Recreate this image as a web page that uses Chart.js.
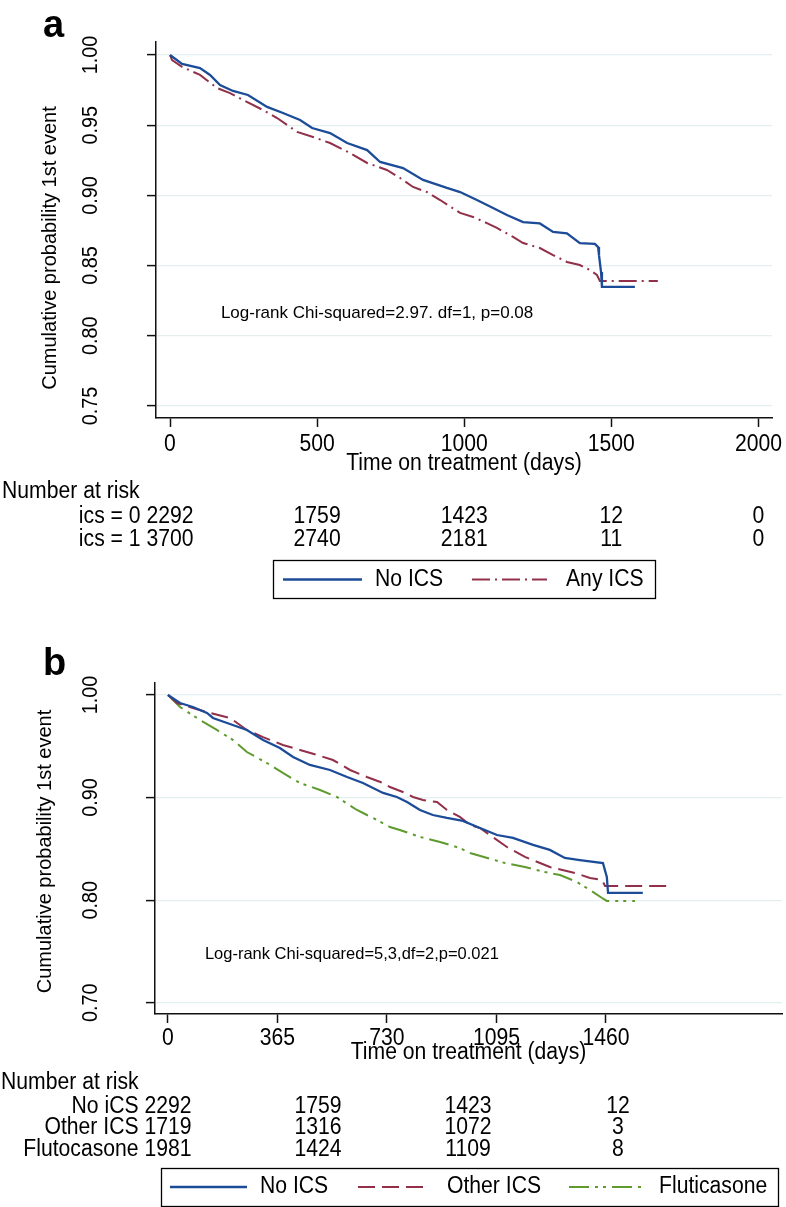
<!DOCTYPE html>
<html>
<head>
<meta charset="utf-8">
<script src="https://cdn.jsdelivr.net/npm/chart.js@4.4.1/dist/chart.umd.min.js"></script>
<style>
html,body{margin:0;padding:0;background:#fff;}
#wrap{width:786px;height:1207px;position:relative;overflow:hidden;}
canvas{display:block;}
</style>
</head>
<body>
<div id="wrap">
<canvas id="ca" width="786" height="600"></canvas>
<canvas id="cb" width="786" height="607"></canvas>
</div>
<script>
// ---------------- DATA ----------------
// Panel a: Kaplan-Meier curves (days, cumulative probability)
const aNoIcsDays = [0, 41, 102, 136, 170, 214, 265, 330, 384, 442, 483, 544, 602, 670, 714, 792, 860, 941, 986, 1043, 1098, 1145, 1200, 1257, 1302, 1349, 1393, 1444, 1455, 1458, 1465, 1468, 1580];
const aNoIcsSurv = [1.000, 0.9936, 0.9907, 0.9858, 0.9786, 0.9744, 0.9715, 0.9630, 0.9587, 0.9537, 0.9480, 0.9444, 0.9373, 0.9323, 0.9238, 0.9195, 0.9110, 0.9053, 0.9024, 0.8967, 0.8910, 0.8860, 0.8810, 0.8800, 0.8740, 0.8730, 0.8660, 0.8654, 0.8632, 0.8575, 0.8454, 0.8348, 0.8348];
const aAnyIcsDays = [0, 7, 41, 102, 160, 204, 248, 316, 364, 432, 486, 544, 612, 670, 737, 782, 826, 873, 918, 986, 1030, 1077, 1111, 1166, 1200, 1257, 1302, 1349, 1393, 1427, 1451, 1461, 1658];
const aAnyIcsSurv = [1.000, 0.9964, 0.9915, 0.9858, 0.9765, 0.9729, 0.9680, 0.9608, 0.9551, 0.9452, 0.9416, 0.9373, 0.9302, 0.9231, 0.9181, 0.9124, 0.9060, 0.9024, 0.8967, 0.8875, 0.8846, 0.8803, 0.8768, 0.8704, 0.8661, 0.8625, 0.8575, 0.8526, 0.8504, 0.8469, 0.8433, 0.8390, 0.8390];

// Panel b
const bNoIcsDays = [0, 40, 83, 130, 150, 197, 263, 317, 373, 417, 473, 540, 597, 650, 717, 763, 797, 840, 883, 930, 983, 1040, 1097, 1150, 1217, 1273, 1323, 1373, 1450, 1463, 1467, 1583];
const bNoIcsSurv = [1.000, 0.9922, 0.9883, 0.9825, 0.9776, 0.9727, 0.9659, 0.9561, 0.9483, 0.9396, 0.9318, 0.9269, 0.9201, 0.9142, 0.9045, 0.9006, 0.8957, 0.8879, 0.8830, 0.8801, 0.8772, 0.8703, 0.8635, 0.8606, 0.8538, 0.8490, 0.8411, 0.8391, 0.8362, 0.8226, 0.8070, 0.8070];
const bOtherDays = [0, 30, 83, 140, 207, 263, 317, 383, 440, 497, 550, 607, 663, 717, 740, 783, 817, 850, 897, 930, 973, 1007, 1040, 1073, 1130, 1190, 1273, 1357, 1407, 1447, 1457, 1663];
const bOtherSurv = [1.000, 0.9922, 0.9873, 0.9825, 0.9776, 0.9659, 0.9590, 0.9513, 0.9464, 0.9415, 0.9366, 0.9269, 0.9201, 0.9142, 0.9103, 0.9054, 0.9006, 0.8976, 0.8957, 0.8879, 0.8811, 0.8733, 0.8703, 0.8635, 0.8518, 0.8421, 0.8323, 0.8265, 0.8216, 0.8196, 0.8138, 0.8138];
const bFlutDays = [0, 40, 107, 163, 217, 263, 330, 383, 440, 507, 563, 630, 697, 740, 773, 840, 907, 973, 1007, 1123, 1190, 1257, 1307, 1363, 1407, 1447, 1463, 1557];
const bFlutSurv = [1.000, 0.9883, 0.9756, 0.9659, 0.9561, 0.9444, 0.9337, 0.9240, 0.9142, 0.9074, 0.9006, 0.8879, 0.8781, 0.8713, 0.8684, 0.8616, 0.8567, 0.8508, 0.8460, 0.8362, 0.8323, 0.8274, 0.8245, 0.8177, 0.8099, 0.8021, 0.7992, 0.7992];

// Axis ticks
const xTicksA = [0, 500, 1000, 1500, 2000];
const yTicksA = [0.75, 0.80, 0.85, 0.90, 0.95, 1.00];
const xTicksB = [0, 365, 730, 1095, 1460];
const yTicksB = [0.70, 0.80, 0.90, 1.00];

// Number at risk tables
const riskTimesA = [0, 500, 1000, 1500, 2000];
const riskA_ics0 = [2292, 1759, 1423, 12, 0];
const riskA_ics1 = [3700, 2740, 2181, 11, 0];
const riskTimesB = [0, 500, 1000, 1500];
const riskB_noIcs = [2292, 1759, 1423, 12];
const riskB_other = [1719, 1316, 1072, 3];
const riskB_flut = [1981, 1424, 1109, 8];

// Labels / texts
const seriesA = ['No ICS', 'Any ICS'];
const seriesB = ['No ICS', 'Other ICS', 'Fluticasone'];
const riskRowsA = ['ics = 0', 'ics = 1'];
const riskRowsB = ['No iCS', 'Other ICS', 'Flutocasone'];
const yTitle = 'Cumulative probability 1st event';
const xTitle = 'Time on treatment (days)';
const riskTitle = 'Number at risk';
const noteA = 'Log-rank Chi-squared=2.97. df=1, p=0.08';
const noteB = 'Log-rank Chi-squared=5,3,df=2,p=0.021';

// ---------------- STYLE ----------------
const FONT = "'Liberation Sans', Arial, Helvetica, sans-serif";
const BLUE = '#1c4b98';
const RED = '#923049';
const GREEN = '#5e9a2e';
const GRID = '#e4eff0';
const DASH_A_ANY = [18, 5, 2, 5];
const DASH_B_OTHER = [17, 7];
const DASH_B_FLUT = [20, 6, 3, 5, 3, 6];
const TS = 23;      // condensed text size
const THS = 0.92;   // condensed text horizontal scale

Chart.defaults.font.family = FONT;

function pts(xs, ys) { return xs.map((d, i) => ({ x: d, y: ys[i] })); }

function txt(ctx, s, x, y, o) {
  o = o || {};
  ctx.save();
  ctx.font = (o.weight || 'normal') + ' ' + (o.size || TS) + 'px ' + FONT;
  ctx.fillStyle = '#000';
  ctx.textAlign = o.align || 'left';
  ctx.textBaseline = o.baseline || 'middle';
  ctx.translate(x, y);
  if (o.rot) ctx.rotate(o.rot);
  ctx.scale(o.hs || 1, 1);
  ctx.fillText(s, 0, 0);
  ctx.restore();
}
function txtWidth(ctx, s, size, hs) {
  ctx.save();
  ctx.font = size + 'px ' + FONT;
  const w = ctx.measureText(s).width * hs;
  ctx.restore();
  return w;
}

function drawTickLabels(chart, yTickX, xTickY) {
  const ys = chart.scales.y, xs = chart.scales.x;
  ys.ticks.forEach(t => {
    txt(chart.ctx, t.value.toFixed(2), yTickX, ys.getPixelForValue(t.value), { size: 22.5, hs: 0.88, align: 'center', rot: -Math.PI / 2 });
  });
  xs.ticks.forEach(t => {
    txt(chart.ctx, String(t.value), xs.getPixelForValue(t.value), xTickY, { hs: THS, align: 'center' });
  });
}

function drawRisk(chart, times, rows, labels, rowY) {
  const ctx = chart.ctx, xs = chart.scales.x;
  rows.forEach((vals, r) => {
    vals.forEach((v, i) => {
      txt(ctx, String(v), xs.getPixelForValue(times[i]), rowY[r], { hs: THS, align: 'center' });
    });
    const w0 = txtWidth(ctx, String(vals[0]), TS, THS);
    const left = xs.getPixelForValue(times[0]) - w0 / 2;
    txt(ctx, labels[r] + ' ', left, rowY[r], { hs: THS, align: 'right' });
  });
}

function drawLegend(chart, box, items, cy) {
  const ctx = chart.ctx;
  ctx.save();
  ctx.strokeStyle = '#000';
  ctx.lineWidth = 1.3;
  ctx.strokeRect(box.x, box.y, box.w, box.h);
  items.forEach(it => {
    const ds = chart.data.datasets[it.ds];
    ctx.beginPath();
    ctx.setLineDash(ds.borderDash || []);
    ctx.strokeStyle = ds.borderColor;
    ctx.lineWidth = ds.borderWidth;
    ctx.moveTo(it.x1, cy);
    ctx.lineTo(it.x2, cy);
    ctx.stroke();
    ctx.setLineDash([]);
    txt(ctx, ds.label, it.tx, cy, { hs: THS });
  });
  ctx.restore();
}

function baseOptions(cfg) {
  return {
    responsive: false,
    animation: false,
    events: [],
    layout: { padding: cfg.padding },
    plugins: { legend: { display: false }, tooltip: { enabled: false } },
    scales: {
      x: {
        type: 'linear', min: cfg.xmin, max: cfg.xmax, bounds: 'data',
        afterBuildTicks: s => { s.ticks = cfg.xTicks.map(v => ({ value: v })); },
        afterFit: s => { s.height = cfg.xHeight; },
        ticks: { display: false },
        grid: { drawOnChartArea: false, drawTicks: true, tickLength: 9, tickColor: '#111', tickWidth: 1.5 },
        border: { display: true, color: '#111', width: 1.5 }
      },
      y: {
        type: 'linear', min: cfg.ymin, max: cfg.ymax, bounds: 'data',
        afterBuildTicks: s => { s.ticks = cfg.yTicks.map(v => ({ value: v })); },
        afterFit: s => { s.width = cfg.yWidth; },
        ticks: { display: false },
        grid: { color: GRID, lineWidth: 1.2, drawTicks: true, tickLength: 9, tickColor: '#111', tickWidth: 1.5 },
        border: { display: true, color: '#111', width: 1.5 }
      }
    }
  };
}

// ---------------- PANEL A ----------------
const decorA = {
  id: 'decorA',
  afterDraw(chart) {
    const ctx = chart.ctx, xs = chart.scales.x, ys = chart.scales.y;
    const ca = chart.chartArea;
    txt(ctx, 'a', 43, 37, { size: 38, weight: 'bold', baseline: 'alphabetic' });
    drawTickLabels(chart, 91, 445);
    txt(ctx, yTitle, 50, 248, { size: 20, align: 'center', rot: -Math.PI / 2 });
    txt(ctx, xTitle, (ca.left + ca.right) / 2, 464, { hs: THS, align: 'center' });
    txt(ctx, noteA, xs.getPixelForValue(173), ys.getPixelForValue(0.816), { size: 17 });
    txt(ctx, riskTitle, 2, 492, { hs: THS });
    drawRisk(chart, riskTimesA, [riskA_ics0, riskA_ics1], riskRowsA, [517, 540]);
    drawLegend(chart, { x: 273.5, y: 560.5, w: 382, h: 38 },
      [{ ds: 0, x1: 283, x2: 362, tx: 375 }, { ds: 1, x1: 472, x2: 547, tx: 566 }], 579.5);
  }
};

new Chart(document.getElementById('ca'), {
  type: 'line',
  data: {
    datasets: [
      { label: seriesA[0], data: pts(aNoIcsDays, aNoIcsSurv), borderColor: BLUE, borderWidth: 2.3, pointRadius: 0, tension: 0, fill: false },
      { label: seriesA[1], data: pts(aAnyIcsDays, aAnyIcsSurv), borderColor: RED, borderWidth: 2, borderDash: DASH_A_ANY, pointRadius: 0, tension: 0, fill: false }
    ]
  },
  options: baseOptions({
    padding: { left: 0, top: 42, right: 14, bottom: 0 },
    xmin: -47.6, xmax: 2046, xTicks: xTicksA, xHeight: 182,
    ymin: 0.74145, ymax: 1.00926, yTicks: yTicksA, yWidth: 156
  }),
  plugins: [decorA]
});

// ---------------- PANEL B ----------------
const decorB = {
  id: 'decorB',
  afterDraw(chart) {
    const ctx = chart.ctx, xs = chart.scales.x, ys = chart.scales.y;
    const ca = chart.chartArea;
    txt(ctx, 'b', 43, 75, { size: 38, weight: 'bold', baseline: 'alphabetic' });
    drawTickLabels(chart, 91, 438.5);
    txt(ctx, yTitle, 45, 251.5, { size: 20, align: 'center', rot: -Math.PI / 2 });
    txt(ctx, xTitle, (ca.left + ca.right) / 2, 453, { hs: THS, align: 'center' });
    txt(ctx, noteB, xs.getPixelForValue(123), ys.getPixelForValue(0.7475), { size: 16.5 });
    txt(ctx, riskTitle, 1, 483, { hs: THS });
    drawRisk(chart, riskTimesB, [riskB_noIcs, riskB_other, riskB_flut], riskRowsB, [507, 528, 550]);
    drawLegend(chart, { x: 161.5, y: 568.5, w: 617, h: 38 },
      [{ ds: 0, x1: 170, x2: 247, tx: 260 }, { ds: 1, x1: 358, x2: 430, tx: 447 }, { ds: 2, x1: 569, x2: 645, tx: 659 }], 587);
  }
};

new Chart(document.getElementById('cb'), {
  type: 'line',
  data: {
    datasets: [
      { label: seriesB[0], data: pts(bNoIcsDays, bNoIcsSurv), borderColor: BLUE, borderWidth: 2.3, pointRadius: 0, tension: 0, fill: false },
      { label: seriesB[1], data: pts(bOtherDays, bOtherSurv), borderColor: RED, borderWidth: 2, borderDash: DASH_B_OTHER, pointRadius: 0, tension: 0, fill: false },
      { label: seriesB[2], data: pts(bFlutDays, bFlutSurv), borderColor: GREEN, borderWidth: 2, borderDash: DASH_B_FLUT, pointRadius: 0, tension: 0, fill: false }
    ]
  },
  options: baseOptions({
    padding: { left: 0, top: 83, right: 4, bottom: 0 },
    xmin: -43.3, xmax: 2047, xTicks: xTicksB, xHeight: 193,
    ymin: 0.689, ymax: 1.0117, yTicks: yTicksB, yWidth: 155
  }),
  plugins: [decorB]
});
</script>
</body>
</html>
